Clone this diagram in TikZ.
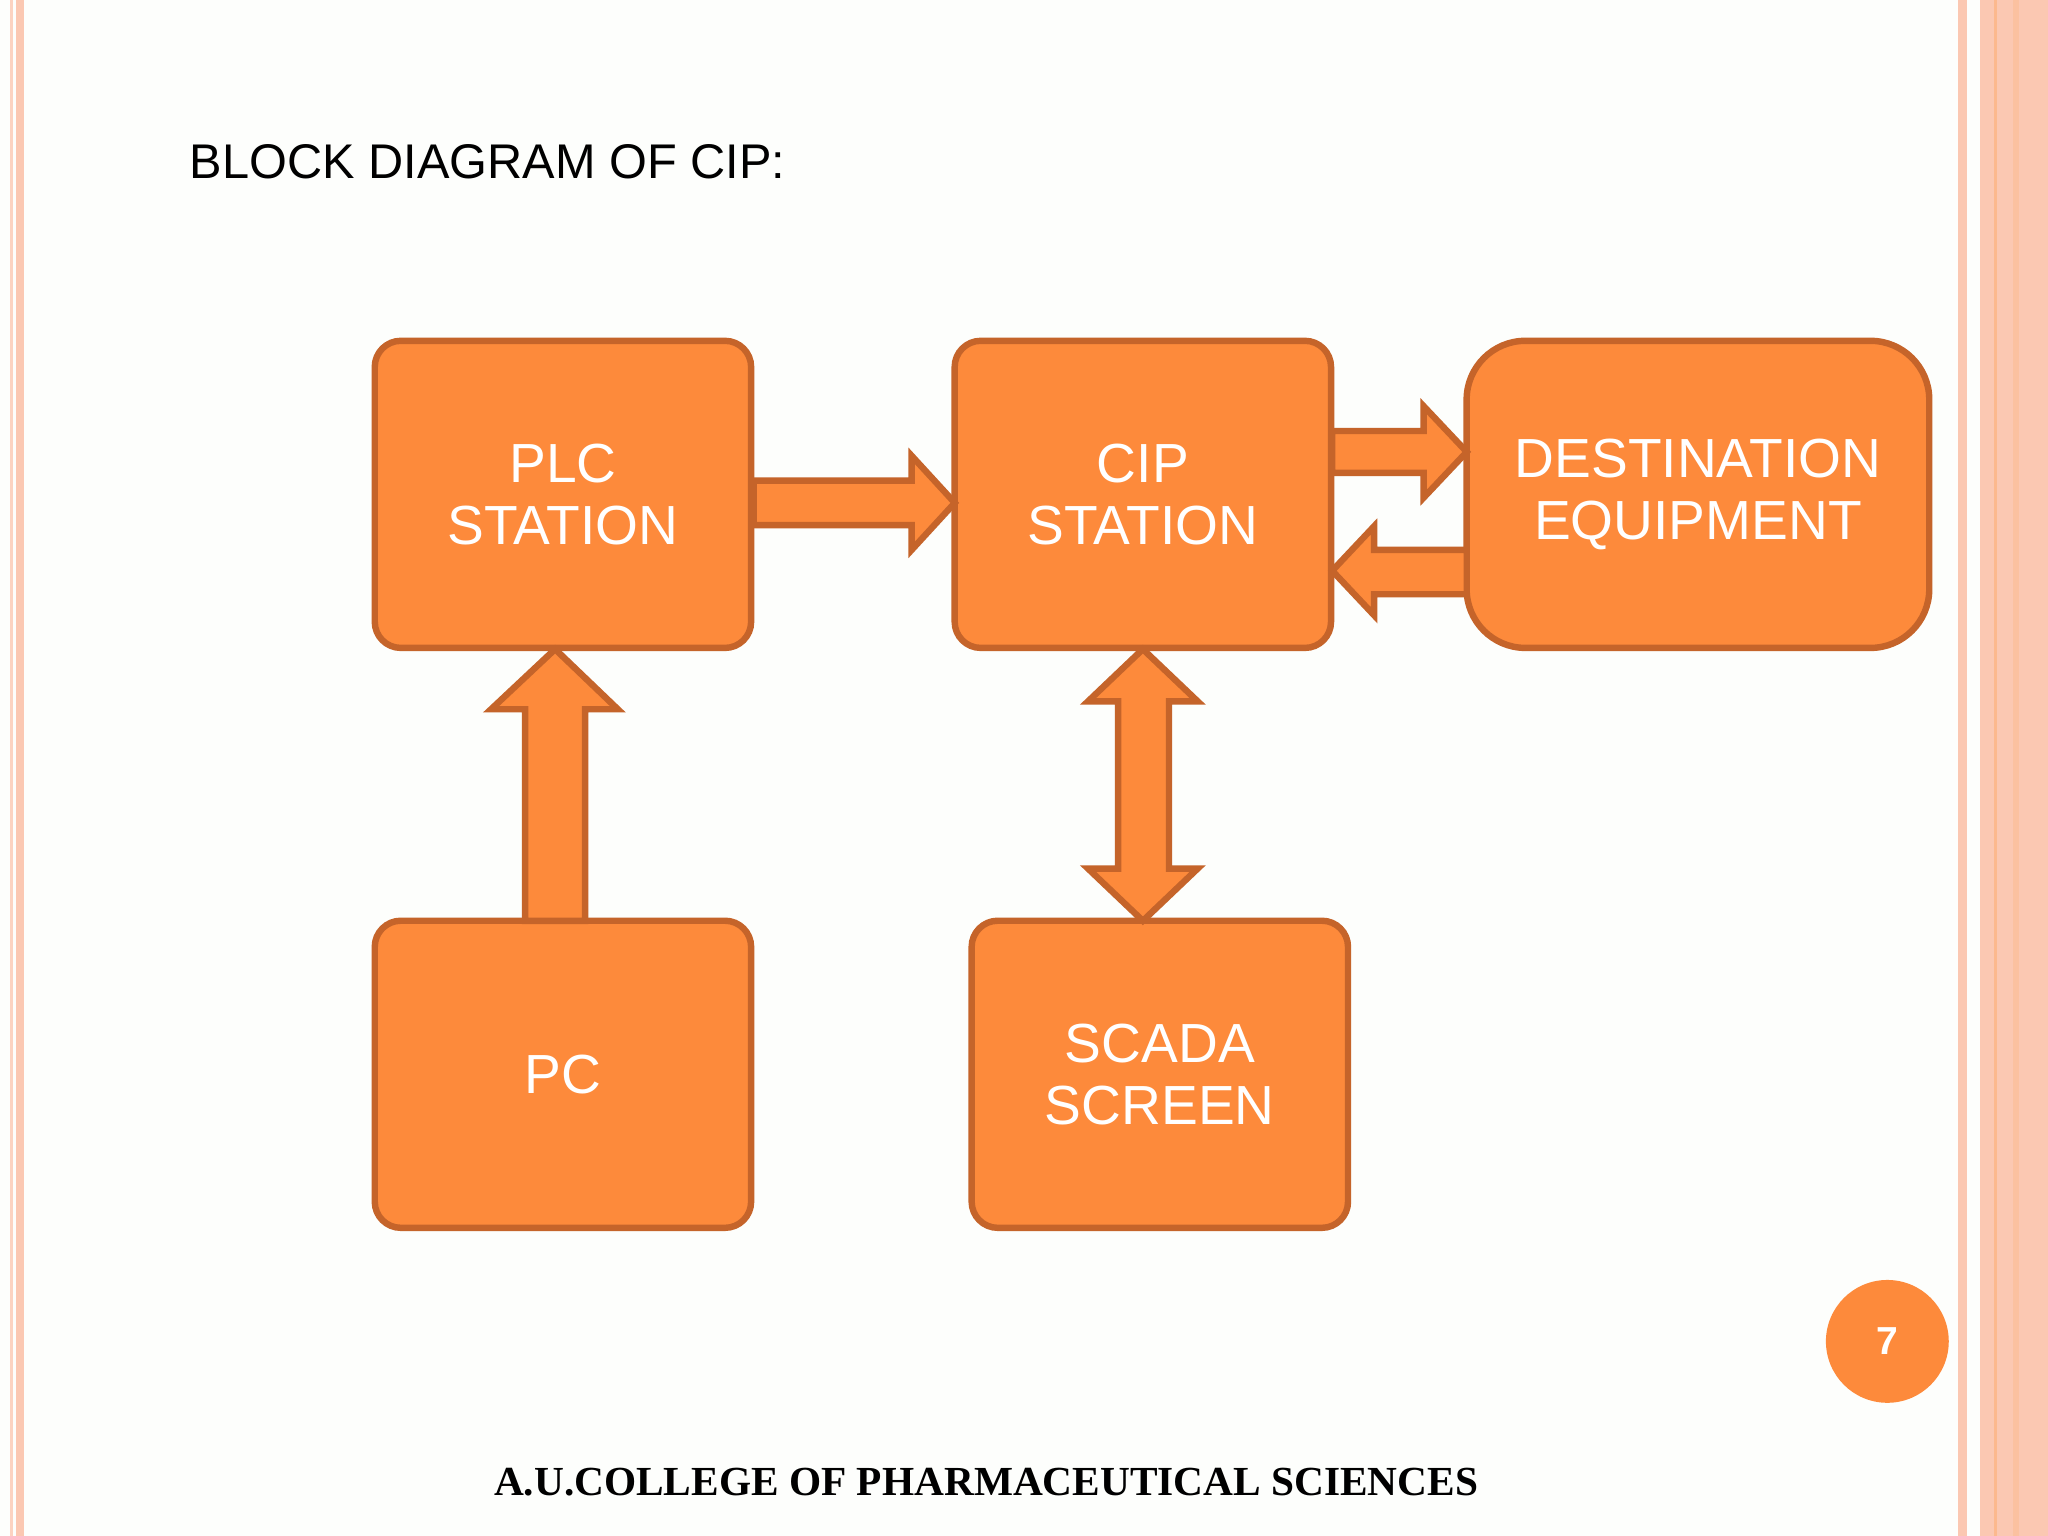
\documentclass[tikz,border=0pt]{standalone}
\usepackage{fontspec}
\setmainfont{Liberation Sans}
\newfontfamily\footfont{Liberation Serif}
\definecolor{boxfill}{HTML}{FD8A3B}
\definecolor{boxdraw}{HTML}{C5642A}
\definecolor{peach}{HTML}{FBC8B2}
\definecolor{paper}{HTML}{FDFEFC}
\tikzset{
  blk/.style = {draw=boxdraw, fill=boxfill, line width=1.4pt, rounded corners=0.2cm,
    text=white, align=center, font=\fontsize{12}{13.4}\selectfont, inner sep=0pt},
  barrow/.style = {draw=boxdraw, fill=boxfill, line width=1.4pt, line join=miter}
}
\begin{document}
\begin{tikzpicture}[x=0.01cm, y=-0.01cm]
\useasboundingbox (0,0) rectangle (1568,1176);
\fill[paper] (0,0) rectangle (1568,1176);
% page borders
\fill[peach!80] (8,0) rectangle (10,1176);
\fill[peach] (12,0) rectangle (18,1176);
\fill[peach] (1499,0) rectangle (1506,1176);
\fill[peach] (1516,0) rectangle (1568,1176);
\fill[peach!80!orange] (1527,0) rectangle (1529,1176);
\fill[peach!90!orange] (1541,0) rectangle (1546,1176);

\node[anchor=base west, font=\fontsize{10.6}{12}\selectfont] (title) at (133,137) {BLOCK DIAGRAM OF CIP:};

% blocks
\node[blk, minimum width=2.88cm, minimum height=2.35cm] (plc) at (431,378.5) {PLC\\STATION};
\node[blk, minimum width=2.88cm, minimum height=2.35cm] (cip) at (875,378.5) {CIP\\STATION};
\node[blk, minimum width=3.54cm, minimum height=2.35cm, rounded corners=0.45cm] (dest) at (1300,378.5) {DESTINATION\\EQUIPMENT};
\node[blk, minimum width=2.88cm, minimum height=2.35cm] (pc) at (431,822.5) {PC};
\node[blk, minimum width=2.88cm, minimum height=2.35cm] (scada) at (888,822.5) {SCADA\\SCREEN};

% block arrows
\draw[barrow] (577,368) -- (698,368) -- (698,349) -- (731,385) -- (698,421) -- (698,402) -- (577,402) -- cycle;
\draw[barrow] (1020,330) -- (1090,330) -- (1090,311) -- (1123,346) -- (1090,381) -- (1090,362) -- (1020,362) -- cycle;
\draw[barrow] (1123,421) -- (1052,421) -- (1052,403) -- (1020,437) -- (1052,471) -- (1052,455) -- (1123,455) -- cycle;
\draw[barrow] (402,705) -- (402,543) -- (376,543) -- (425,497) -- (473,543) -- (448,543) -- (448,705) -- cycle;
\draw[barrow] (875,497) -- (917,537) -- (895,537) -- (895,665) -- (917,665) -- (875,705) -- (833,665) -- (856,665) -- (856,537) -- (833,537) -- cycle;

% page number
\node[circle, fill=boxfill, minimum size=0.94cm, text=white, font=\bfseries\fontsize{8.5}{10}\selectfont] (num) at (1445,1027) {7};
\node[anchor=base, font=\footfont\bfseries\fontsize{9}{10}\selectfont] (foot) at (755,1145) {A.U.COLLEGE OF PHARMACEUTICAL SCIENCES};
\end{tikzpicture}
\end{document}
